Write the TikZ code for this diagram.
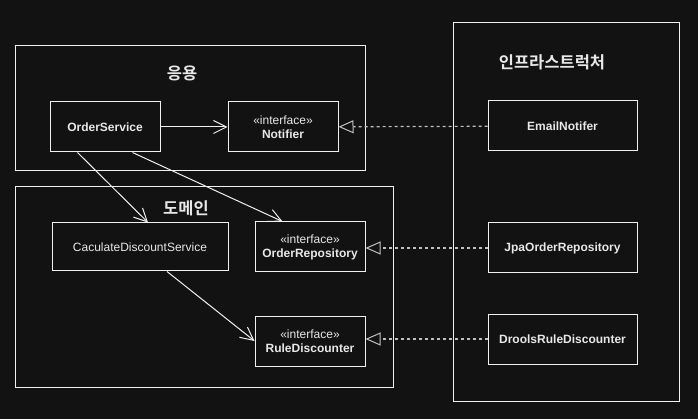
\documentclass[tikz,border=0pt]{standalone}
\usepackage{fontspec}
\setmainfont{Liberation Sans}
\newfontfamily\krfont{Noto Sans CJK KR}[BoldFont={Noto Sans CJK KR Bold}]
\usetikzlibrary{arrows.meta}
\definecolor{bgcolor}{HTML}{121212}
\definecolor{linecolor}{HTML}{F0F0F0}
\definecolor{textcolor}{HTML}{E8E8E8}
\definecolor{implcolor}{HTML}{C0C0C0}
\begin{document}
\begin{tikzpicture}[x=1pt,y=-1pt,
    frame/.style={draw=linecolor,line width=1pt},
    cls/.style={draw=linecolor,line width=1pt,fill=bgcolor,text=textcolor,
        minimum width=110pt,minimum height=50pt,inner sep=0pt,align=center,
        font=\fontsize{12}{14}\selectfont\bfseries},
    infra/.style={cls,minimum width=149pt},
    layer/.style={text=textcolor,font=\krfont\fontsize{16.5}{20}\selectfont\bfseries},
    uses/.style={draw=linecolor,line width=1pt,-{Straight Barb[length=13pt,width=13pt]}},
    impl/.style={draw=implcolor,line width=1.2pt,dash pattern=on 3pt off 3pt,
        -{Triangle[open,length=15pt,width=13pt,fill=bgcolor,line width=1pt]}}]

\fill[bgcolor] (0,0) rectangle (698,419);

% layers
\draw[frame] (15,46) rectangle (365,171);
\draw[frame] (15,187) rectangle (393,387);
\draw[frame] (453,23) rectangle (679,401);
\node[layer] (appLabel) at (182,73) {응용};
\node[layer] (domainLabel) at (186,208) {도메인};
\node[layer] (infraLabel) at (552,62) {인프라스트럭처};

% classes
\node[cls] (orderService) at (105,127) {OrderService};
\node[cls] (notifier) at (283,127) {{\mdseries«interface»}\\Notifier};
\node[cls,minimum width=176pt,minimum height=48pt,font=\fontsize{12}{14}\selectfont]
    (calcService) at (140,247) {CaculateDiscountService};
\node[cls] (orderRepo) at (310,247) {{\mdseries«interface»}\\OrderRepository};
\node[cls] (ruleDisc) at (310,341) {{\mdseries«interface»}\\RuleDiscounter};
\node[infra] (emailNotifier) at (562.5,126) {EmailNotifer};
\node[infra] (jpaRepo) at (562.5,248) {JpaOrderRepository};
\node[infra] (droolsDisc) at (562.5,339) {DroolsRuleDiscounter};

% dependencies
\draw[uses] (orderService) -- (notifier);
\draw[uses] ([xshift=28pt]orderService.south west) -- ([xshift=8pt]calcService.north);
\draw[uses] ([xshift=-28pt]orderService.south east) -- ([xshift=28pt]orderRepo.north west);
\draw[uses] ([xshift=27pt]calcService.south) -- (ruleDisc.west);

% implementations
\draw[impl] (emailNotifier) -- (notifier);
\draw[impl] (jpaRepo.west) -- (orderRepo.east |- jpaRepo.west);
\draw[impl] (droolsDisc.west) -- (ruleDisc.east |- droolsDisc.west);

\end{tikzpicture}
\end{document}
